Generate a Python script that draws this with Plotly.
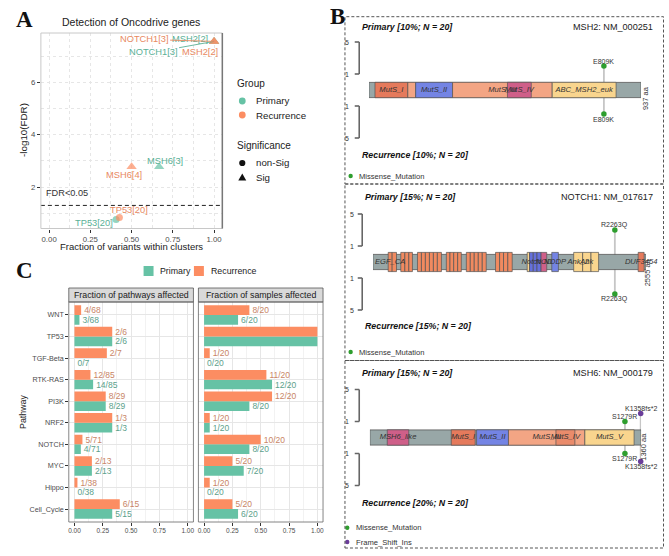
import math
import plotly.graph_objects as go

W, H = 669, 556
def fx(p): return p / W
def fy(p): return 1 - p / H

TEAL = "#66C2A5"; ORANGE = "#FC8D62"
TEAL_TA = "#5AB096"; ORANGE_TA = "#E8895F"
TEAL_TC = "#5C9F8B"; ORANGE_TC = "#C98566"
SANS = "Liberation Sans, Arial, sans-serif"
SERIF = "Liberation Serif, Times New Roman, serif"
GREY_T = "#4D4D4D"

# ---------------- Panel A data ----------------
a_group = ["Primary", "Primary", "Primary", "Primary", "Recurrence", "Recurrence", "Recurrence", "Recurrence"]
a_gene = ["TP53", "MSH6", "NOTCH1", "MSH2", "TP53", "MSH6", "NOTCH1", "MSH2"]
a_nvar = [20, 3, 3, 2, 20, 4, 3, 2]
a_frac = [0.406, 0.667, 1.0, 1.0, 0.426, 0.5, 1.0, 1.0]
a_neglog_fdr = [0.76, 2.78, 7.56, 7.56, 0.84, 2.78, 7.56, 7.56]
a_sig = ["non-Sig", "Sig", "Sig", "Sig", "non-Sig", "Sig", "Sig", "Sig"]
fdr_cut = 0.05

# ---------------- Panel C data ----------------
pathways = ["WNT", "TP53", "TGF-Beta", "RTK-RAS", "PI3K", "NRF2", "NOTCH", "MYC", "Hippo", "Cell_Cycle"]
path_total = [68, 6, 7, 85, 29, 3, 71, 13, 38, 15]
pri_path_mut = [3, 2, 0, 14, 8, 1, 4, 2, 0, 5]
rec_path_mut = [4, 2, 2, 12, 8, 1, 5, 2, 1, 6]
n_samples = 20
pri_samples = [6, 20, 0, 12, 8, 1, 8, 7, 0, 6]
rec_samples = [8, 20, 1, 11, 12, 1, 10, 5, 1, 5]

# ---------------- Panel B data ----------------
msh2_len = 937
msh2_dom_name = ["MutS_I", "", "MutS_II", "MutS_III", "MutS_IV", "ABC_MSH2_euk"]
msh2_dom_start = [21, 134, 161, 288, 477, 631]
msh2_dom_end = [134, 161, 288, 631, 559, 851]
msh2_mut_pos = [809]
msh2_mut_label = ["E809K"]
msh2_mut_class = ["Missense_Mutation"]
msh2_mut_primary = [2]
msh2_mut_recurrence = [2]

notch1_len = 2555
notch1_dom_name = ["EGF_CA", "EGF_CA", "EGF_CA", "EGF_CA", "EGF_CA", "EGF_CA", "EGF_CA", "EGF_CA",
                   "EGF_CA", "EGF_CA", "EGF_CA", "EGF_CA", "EGF_CA", "EGF_CA", "EGF_CA", "EGF_CA",
                   "EGF_CA", "EGF_CA", "EGF_CA", "EGF_CA", "EGF_CA", "EGF_CA", "EGF_CA", "EGF_CA",
                   "", "Notch", "Notch", "Notch", "NOD", "NODP", "Ank_2", "Ank", "Ank_2", "DUF3454"]
notch1_dom_start = [143, 180, 261, 299, 336, 417, 454, 491, 529, 566, 603, 687, 721, 756, 793, 874,
                    911, 948, 986, 1023, 1147, 1185, 1222, 1262,
                    1443, 1465, 1500, 1535, 1573, 1673, 1878, 1962, 2040, 2481]
notch1_dom_end = [180, 221, 299, 336, 370, 454, 491, 529, 566, 603, 641, 721, 756, 793, 827, 911,
                  948, 986, 1023, 1060, 1185, 1222, 1262, 1303,
                  1465, 1500, 1535, 1573, 1626, 1735, 1962, 2040, 2111, 2537]
notch1_mut_pos = [2263]
notch1_mut_label = ["R2263Q"]
notch1_mut_class = ["Missense_Mutation"]
notch1_mut_primary = [3]
notch1_mut_recurrence = [3]

msh6_len = 1360
msh6_dom_name = ["MSH6_like", "MutS_I", "MutS_II", "MutS_III", "MutS_IV", "MutS_V"]
msh6_dom_start = [87, 408, 535, 695, 933, 1078]
msh6_dom_end = [195, 528, 695, 1078, 1028, 1325]
msh6_mut_pos = [1279, 1358]
msh6_mut_label = ["S1279R", "K1358fs*2"]
msh6_mut_class = ["Missense_Mutation", "Frame_Shift_Ins"]
msh6_mut_primary = [1, 2]
msh6_mut_recurrence = [1, 2]

# colours (style)
CORAL = "#E57A5C"; SALMON = "#F3A584"; BLUE = "#7484E4"; PINK = "#CF5F89"; YELLOW = "#F9D58E"
EGF = "#F08A60"
BACKBONE = "#98A7A7"
msh2_dom_col = [CORAL, SALMON, BLUE, SALMON, PINK, YELLOW]
notch1_dom_col = [EGF] * 24 + [YELLOW, "#6570DC", "#6570DC", "#6570DC", PINK, BLUE, YELLOW, YELLOW, YELLOW, CORAL]
msh6_dom_col = [PINK, CORAL, BLUE, SALMON, "#EA8B6B", YELLOW]
MUT_COL = {"Missense_Mutation": "#2E9E2E", "Frame_Shift_Ins": "#6A3D9A"}

fig = go.Figure()
shapes = []
ann = []

def A(text, x, y, size, color="#222", xanchor="center", yanchor="middle", family=SANS, xref="paper", yref="paper", **kw):
    ann.append(dict(text=text, x=x, y=y, xref=xref, yref=yref, showarrow=False, xanchor=xanchor,
                    yanchor=yanchor, font=dict(size=size, color=color, family=family), **kw))

# ================= Panel A =================
for grp, col in [("Primary", TEAL), ("Recurrence", ORANGE)]:
    idx = [i for i, g in enumerate(a_group) if g == grp]
    fig.add_trace(go.Scatter(
        x=[a_frac[i] for i in idx], y=[a_neglog_fdr[i] for i in idx], mode="markers",
        marker=dict(color=col, size=[9 if a_sig[i] == "Sig" else 7 for i in idx],
                    symbol=["triangle-up" if a_sig[i] == "Sig" else "circle" for i in idx],
                    line=dict(width=0)),
        xaxis="x", yaxis="y", cliponaxis=False, hoverinfo="skip"))

# label placement (pixel offsets, style)
lab_off = {("Primary", "TP53"): (-22, -3, False), ("Recurrence", "TP53"): (10, 7, False),
           ("Primary", "MSH6"): (6, 6, False), ("Recurrence", "MSH6"): (-8, -8, False),
           ("Recurrence", "NOTCH1"): (-70, -2, True), ("Primary", "MSH2"): (-24, 2, False),
           ("Primary", "NOTCH1"): (-61, 11, True), ("Recurrence", "MSH2"): (-14, -11, False)}
for i in range(len(a_gene)):
    col = TEAL_TA if a_group[i] == "Primary" else ORANGE_TA
    dx, dy, arrow = lab_off[(a_group[i], a_gene[i])]
    txt = f"{a_gene[i]}[{a_nvar[i]}]"
    if arrow:
        ann.append(dict(text=txt, x=a_frac[i], y=a_neglog_fdr[i], xref="x", yref="y", showarrow=True,
                        ax=dx, ay=dy, arrowhead=0, arrowwidth=0.9, arrowcolor=col, standoff=0,
                        font=dict(size=9.3, color=col, family=SANS)))
    else:
        ann.append(dict(text=txt, x=a_frac[i], y=a_neglog_fdr[i], xref="x", yref="y", showarrow=False,
                        xshift=dx, yshift=dy, font=dict(size=9.3, color=col, family=SANS)))

fdr_line = -math.log10(fdr_cut)
shapes.append(dict(type="line", xref="x domain", yref="y", x0=0, x1=1, y0=fdr_line, y1=fdr_line,
                   line=dict(color="#222", width=1, dash="4px,3px")))
A("FDR<0.05", fx(43), fy(193), 9.2, color="#333", xanchor="left")
shapes.append(dict(type="rect", xref="x domain", yref="y domain", x0=0, x1=1, y0=0, y1=1,
                   line=dict(color="#C8C8C8", width=1)))
shapes.append(dict(type="line", xref="x domain", yref="y domain", x0=1, x1=1, y0=0, y1=1,
                   line=dict(color="#777", width=1.5)))
A("Detection of Oncodrive genes", fx(130), fy(22.5), 10.5, color="#222")
A("-log10(FDR)", fx(22), fy(130), 9.8, color="#222", textangle=-90)
A("Fraction of variants within clusters", fx(131), fy(246), 9.5, color="#222")
A("<b>A</b>", fx(24), fy(19), 23, color="#111", family=SERIF)

# legend A
A("Group", fx(235), fy(84), 10, xanchor="left")
A("Primary", fx(254), fy(101), 9.7, xanchor="left")
A("Recurrence", fx(254), fy(115), 9.7, xanchor="left")
A("Significance", fx(235), fy(146), 10, xanchor="left")
A("non-Sig", fx(254), fy(163), 9.7, xanchor="left")
A("Sig", fx(254), fy(177), 9.7, xanchor="left")
def circ(cx, cy, r, col):
    shapes.append(dict(type="circle", xref="paper", yref="paper", x0=fx(cx - r), x1=fx(cx + r),
                       y0=fy(cy + r), y1=fy(cy - r), fillcolor=col, line=dict(width=0)))
circ(242, 101, 3.4, TEAL)
circ(242, 115, 3.4, ORANGE)
circ(242, 163, 3.1, "#111")
shapes.append(dict(type="path", xref="paper", yref="paper",
                   path=f"M {fx(238)},{fy(180.5)} L {fx(246)},{fy(180.5)} L {fx(242)},{fy(173.5)} Z",
                   fillcolor="#111", line=dict(width=0)))

# ================= Panel C =================
for xa, ya, pnum, rnum, den in [("x2", "y2", pri_path_mut, rec_path_mut, path_total),
                                ("x3", "y3", pri_samples, rec_samples, [n_samples] * len(pathways))]:
    for nums, col, tcol in [(pnum, TEAL, TEAL_TC), (rnum, ORANGE, ORANGE_TC)]:
        vals = [n / d for n, d in zip(nums, den)]
        txt = [f"{n}/{d}" if n < d else "" for n, d in zip(nums, den)]
        fig.add_trace(go.Bar(y=pathways, x=vals, orientation="h", marker=dict(color=col, line=dict(width=0)),
                             text=txt, textposition="outside", constraintext="none",
                             outsidetextfont=dict(size=8.5, color=tcol, family=SANS),
                             textfont=dict(size=8.5, color=tcol, family=SANS),
                             xaxis=xa, yaxis=ya, hoverinfo="skip", cliponaxis=True))

for xa, lx0, lx1, strip in [("x2", 68, 193, "Fraction of pathways affected"),
                            ("x3", 198, 323, "Fraction of samples affected")]:
    shapes.append(dict(type="rect", xref="paper", yref="paper", x0=fx(lx0), x1=fx(lx1), y0=fy(302), y1=fy(288),
                       fillcolor="#D9D9D9", line=dict(color="#555", width=0.8)))
    shapes.append(dict(type="rect", xref="paper", yref="paper", x0=fx(lx0), x1=fx(lx1), y0=fy(522), y1=fy(302),
                       line=dict(color="#666", width=0.8)))
    A(strip, fx((lx0 + lx1) / 2), fy(295.3), 8.8, color="#1A1A1A")

A("<b>C</b>", fx(24), fy(270), 23, color="#111", family=SERIF)
A("Pathway", fx(22), fy(412), 8.8, color="#222", textangle=-90)
shapes.append(dict(type="rect", xref="paper", yref="paper", x0=fx(143), x1=fx(153), y0=fy(276), y1=fy(266),
                   fillcolor=TEAL, line=dict(width=0)))
shapes.append(dict(type="rect", xref="paper", yref="paper", x0=fx(193.5), x1=fx(203.5), y0=fy(276), y1=fy(266),
                   fillcolor=ORANGE, line=dict(width=0)))
A("Primary", fx(157), fy(271), 8.8, xanchor="left")
A("Recurrence", fx(208.5), fy(271), 8.8, xanchor="left")

# ================= Panel B =================
genes = [
    dict(len=msh2_len, dn=msh2_dom_name, ds=msh2_dom_start, de=msh2_dom_end, dc=msh2_dom_col,
         mp=msh2_mut_pos, ml=msh2_mut_label, mc=msh2_mut_class, mpr=msh2_mut_primary, mre=msh2_mut_recurrence,
         xa="x4", ya="y4", px0=369, px1=642, cy=90, dh=0.96,
         title="MSH2: NM_000251", pri="Primary [10%; N = 20]", rec="Recurrence [10%; N = 20]",
         tx=360, ty=27, ry=155, bx=359.3, blx=347.3, lenx=646, leny=-1.0, legy=[176], legx=350.7),
    dict(len=notch1_len, dn=notch1_dom_name, ds=notch1_dom_start, de=notch1_dom_end, dc=notch1_dom_col,
         mp=notch1_mut_pos, ml=notch1_mut_label, mc=notch1_mut_class, mpr=notch1_mut_primary, mre=notch1_mut_recurrence,
         xa="x5", ya="y5", px0=373, px1=647, cy=262, dh=1.2,
         title="NOTCH1: NM_017617", pri="Primary [15%; N = 20]", rec="Recurrence [15%; N = 20]",
         tx=363, ty=197, ry=325.7, bx=362.3, blx=351.7, lenx=648.3, leny=-1.25, legy=[352], legx=350.7),
    dict(len=msh6_len, dn=msh6_dom_name, ds=msh6_dom_start, de=msh6_dom_end, dc=msh6_dom_col,
         mp=msh6_mut_pos, ml=msh6_mut_label, mc=msh6_mut_class, mpr=msh6_mut_primary, mre=msh6_mut_recurrence,
         xa="x6", ya="y6", px0=370, px1=642, cy=437.5, dh=0.96,
         title="MSH6: NM_000179", pri="Primary [15%; N = 20]", rec="Recurrence [20%; N = 20]",
         tx=360, ty=373, ry=502.7, bx=359.3, blx=346.7, lenx=645, leny=-1.15, legy=[527.7, 542], legx=347.3),
]
UNIT = 8.0
YR = 8.0
layout_axes = {}
for gi, g in enumerate(genes):
    xa, ya = g["xa"], g["ya"]
    # stems
    for p, cp, cr in zip(g["mp"], g["mpr"], g["mre"]):
        fig.add_trace(go.Scatter(x=[p, p], y=[1 + cp, -(1 + cr)], mode="lines",
                                 line=dict(color="#C6C6C6", width=1.8), xaxis=xa, yaxis=ya, hoverinfo="skip"))
    # backbone
    L = g["len"]
    fig.add_trace(go.Scatter(x=[0, L, L, 0, 0], y=[-0.95, -0.95, 0.95, 0.95, -0.95], mode="lines", fill="toself",
                             fillcolor=BACKBONE, line=dict(color="#555", width=0.8), xaxis=xa, yaxis=ya, hoverinfo="skip"))
    h = g["dh"]
    for name, s, e, c in zip(g["dn"], g["ds"], g["de"], g["dc"]):
        fig.add_trace(go.Scatter(x=[s, e, e, s, s], y=[-h, -h, h, h, -h], mode="lines", fill="toself",
                                 fillcolor=c, line=dict(color="#555", width=0.7), xaxis=xa, yaxis=ya, hoverinfo="skip"))
    # domain labels on top (first occurrence of each name)
    seen = []
    lx, lt = [], []
    for name, s, e in zip(g["dn"], g["ds"], g["de"]):
        if name and name not in seen:
            seen.append(name)
            lx.append((s + e) / 2)
            lt.append(f"<i>{name}</i>")
    fig.add_trace(go.Scatter(x=lx, y=[0] * len(lx), mode="text", text=lt,
                             textfont=dict(size=7.6, color="#333", family=SANS), textposition="middle center",
                             xaxis=xa, yaxis=ya, hoverinfo="skip", cliponaxis=False))
    # dots
    for side, counts in [(1, g["mpr"]), (-1, g["mre"])]:
        ys = [side * (1 + c) for c in counts]
        fig.add_trace(go.Scatter(x=g["mp"], y=ys, mode="markers",
                                 marker=dict(color=[MUT_COL[m] for m in g["mc"]], size=5.5, line=dict(width=0)),
                                 xaxis=xa, yaxis=ya, hoverinfo="skip", cliponaxis=False))
        for p, yv, lab in zip(g["mp"], ys, g["ml"]):
            ann.append(dict(text=lab, x=p, y=yv, xref=xa, yref=ya, showarrow=False, yshift=5 * side,
                            font=dict(size=7, color="#333", family=SANS)))
    # axes
    ax_idx = xa[1:]
    d_top = g["cy"] - YR * UNIT
    d_bot = g["cy"] + YR * UNIT
    layout_axes["xaxis" + ax_idx] = dict(domain=[fx(g["px0"]), fx(g["px1"])], range=[0, L], visible=False,
                                         anchor=ya, fixedrange=True)
    layout_axes["yaxis" + ax_idx] = dict(domain=[fy(d_bot), fy(d_top)], range=[-YR, YR], visible=False,
                                         anchor=xa, fixedrange=True)
    # scale brackets (counts 1 and 5)
    yref = ya
    for side in (1, -1):
        y1, y5 = side * 2, side * 6
        shapes.append(dict(type="line", xref="paper", yref=yref, x0=fx(g["bx"]), x1=fx(g["bx"]), y0=y1, y1=y5,
                           line=dict(color="#666", width=1.6)))
        for yy, lab in [(y1, "1"), (y5, "5")]:
            shapes.append(dict(type="line", xref="paper", yref=yref, x0=fx(g["bx"] - 4.5), x1=fx(g["bx"]), y0=yy, y1=yy,
                               line=dict(color="#666", width=1.6)))
            A(lab, fx(g["blx"]), yy, 7, color="#333", yref=yref)
    A(f"{L} aa", fx(g["lenx"]), g["leny"], 7.5, color="#333", yref=yref, textangle=-90)
    A(f"<b><i>{g['pri']}</i></b>", fx(g["tx"]), fy(g["ty"]), 8.8, color="#111", xanchor="left")
    A(f"<b><i>{g['rec']}</i></b>", fx(g["tx"]), fy(g["ry"]), 8.8, color="#111", xanchor="left")
    A(g["title"], fx(655.5), fy(g["ty"]), 9.1, color="#222", xanchor="right")
    classes = []
    for m in g["mc"]:
        if m not in classes:
            classes.append(m)
    for cls, ly in zip(classes, g["legy"]):
        circ(g["legx"], ly, 2.2, MUT_COL[cls])
        A(cls, fx(g["legx"] + 6.5), fy(ly), 7.6, color="#333", xanchor="left")

# dashed boxes
for y0, y1 in [(16.7, 184), (184, 360.5), (360.5, 548)]:
    shapes.append(dict(type="rect", xref="paper", yref="paper", x0=fx(345), x1=fx(664.5), y0=fy(y1), y1=fy(y0),
                       line=dict(color="#555", width=1, dash="3px,2px")))
A("<b>B</b>", fx(338), fy(16), 23, color="#111", family=SERIF)

# ================= Layout =================
tickfont_a = dict(size=7.8, color=GREY_T, family=SANS)
tickfont_c = dict(size=6.5, color=GREY_T, family=SANS)
grid_a = "#E6E6E6"
GD = "3px,3px"
layout = dict(
    width=W, height=H, margin=dict(l=0, r=0, t=0, b=0), paper_bgcolor="white", plot_bgcolor="rgba(0,0,0,0)",
    showlegend=False, barmode="group", bargap=0.1, bargroupgap=0,
    xaxis=dict(domain=[fx(40), fx(222)], range=[-0.05, 1.05], anchor="y", tick0=0, dtick=0.25, tickformat=".2f",
               ticks="outside", ticklen=3, tickcolor="#333", tickfont=tickfont_a, showgrid=True, gridcolor=grid_a,
               griddash=GD, gridwidth=0.8, zeroline=False, showline=False,
               minor=dict(dtick=0.125, tick0=0, showgrid=True, gridcolor=grid_a, griddash=GD, gridwidth=0.8),
               fixedrange=True),
    yaxis=dict(domain=[fy(228.5), fy(33)], range=[0.42, 7.88], anchor="x", tick0=0, dtick=2, ticks="outside",
               ticklen=3, tickcolor="#333", tickfont=tickfont_a, showgrid=True, gridcolor=grid_a, griddash=GD,
               gridwidth=0.8, zeroline=False, showline=False,
               minor=dict(dtick=1, tick0=0, showgrid=True, gridcolor=grid_a, griddash=GD, gridwidth=0.8),
               fixedrange=True),
    shapes=shapes, annotations=ann,
)
for xa, ya, x0, x1, showy in [("xaxis2", "yaxis2", 68, 193, True), ("xaxis3", "yaxis3", 198, 323, False)]:
    layout[xa] = dict(domain=[fx(x0), fx(x1)], range=[-0.05, 1.05], anchor="y" + ya[5:], tick0=0, dtick=0.25,
                      tickformat=".2f", ticks="outside", ticklen=2.5, tickcolor="#333", tickfont=tickfont_c,
                      showgrid=True, gridcolor="#E6E6E6", gridwidth=0.8, zeroline=False, showline=False,
                      minor=dict(dtick=0.125, tick0=0, showgrid=True, gridcolor="#F2F2F2", gridwidth=0.6),
                      fixedrange=True)
    layout[ya] = dict(domain=[fy(522), fy(302)], type="category", categoryorder="array",
                      categoryarray=list(reversed(pathways)), range=[-0.6, len(pathways) - 0.4],
                      anchor="x" + xa[5:], showticklabels=showy, ticks="outside" if showy else "", ticklen=2.5,
                      tickcolor="#333", tickfont=dict(size=7.2, color=GREY_T, family=SANS), showgrid=True,
                      gridcolor="#E6E6E6", gridwidth=0.8, zeroline=False, showline=False, fixedrange=True)
layout.update(layout_axes)
fig.update_layout(**layout)
fig.write_html("out.html")
